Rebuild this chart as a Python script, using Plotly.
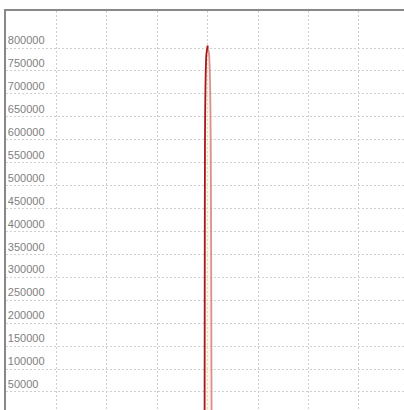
import plotly.graph_objects as go

# data
rise_x = [3.94, 3.943, 3.948, 3.958, 3.975, 4.0]
rise_y = [-40000, 300000, 600000, 720000, 785000, 805000]
fall_x = [4.0, 4.03, 4.05, 4.062, 4.072, 4.08]
fall_y = [805000, 785000, 720000, 600000, 300000, -40000]
ytick_vals = [50000 * i for i in range(1, 17)]
ytick_text = [str(v) for v in ytick_vals]

fig = go.Figure()
fig.add_trace(go.Scatter(
    x=rise_x + fall_x[1:], y=rise_y + fall_y[1:], mode="lines",
    line=dict(color="rgba(0,0,0,0)", width=0, shape="spline", smoothing=0.6),
    fill="tozeroy", fillcolor="rgba(245,225,190,0.35)", hoverinfo="skip",
    showlegend=False))
fig.add_trace(go.Scatter(
    x=fall_x, y=fall_y, mode="lines",
    line=dict(color="rgba(205,110,110,0.75)", width=1.8, shape="spline", smoothing=0.6),
    showlegend=False))
fig.add_trace(go.Scatter(
    x=rise_x, y=rise_y, mode="lines",
    line=dict(color="#a81818", width=1.8, shape="spline", smoothing=0.6),
    showlegend=False))

fig.update_layout(
    width=420, height=430,
    margin=dict(l=6, r=0, t=11, b=0),
    paper_bgcolor="white", plot_bgcolor="white",
    xaxis=dict(range=[0, 414 / 50.4], dtick=1, tick0=0, showticklabels=False,
               showgrid=True, gridcolor="#cfcfcf", griddash="2px,2px", gridwidth=1,
               zeroline=False, side="top", showline=True, linecolor="#888", linewidth=2,
               ticks=""),
    yaxis=dict(range=[-32900, 880700], tickvals=ytick_vals, ticktext=ytick_text,
               ticklabelposition="inside top",
               tickfont=dict(family="Liberation Sans, Arial", size=11, color="#808080"),
               showgrid=True, gridcolor="#cfcfcf", griddash="2px,2px", gridwidth=1,
               zeroline=False, showline=True, linecolor="#888", linewidth=2, ticks=""),
)
fig.write_html("out.html", config={"displayModeBar": False},
               post_script="document.body.style.margin='0';document.body.style.overflow='hidden';")
